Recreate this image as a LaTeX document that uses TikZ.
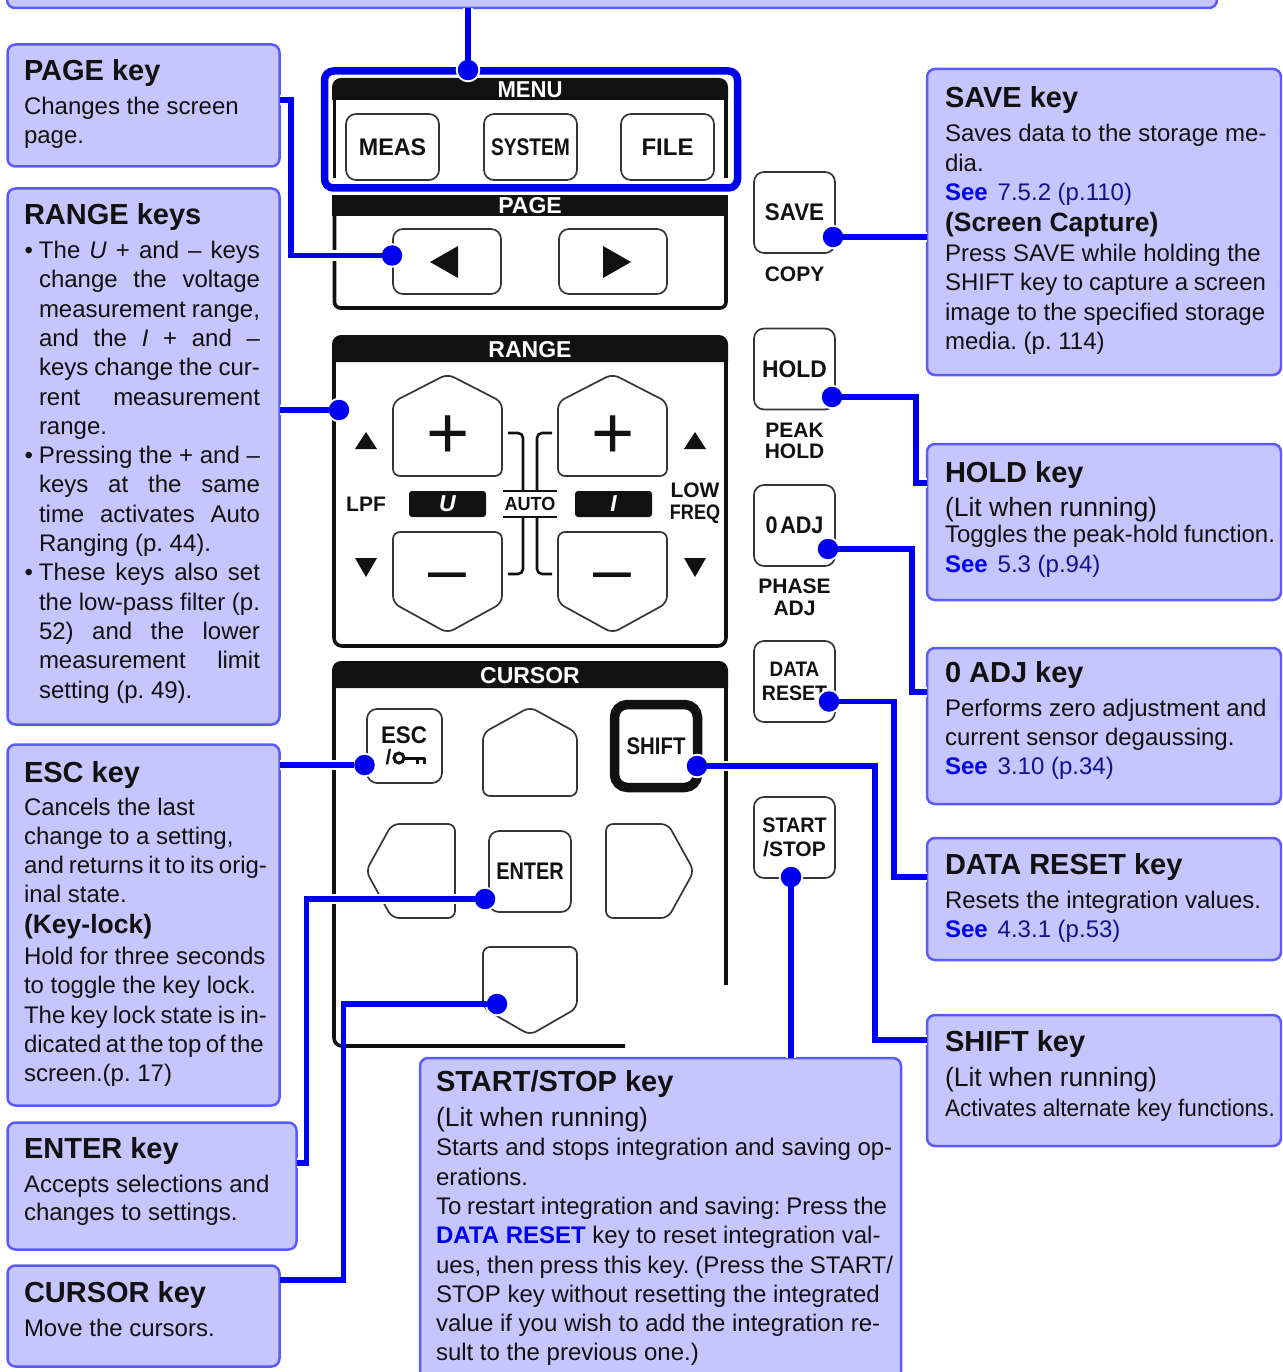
\documentclass[tikz,border=0pt]{standalone}
\usepackage{fontspec}
\usepackage{graphicx}
\usepackage{xcolor}
\setmainfont{Liberation Sans}
\usetikzlibrary{arrows.meta,calc,positioning}
\definecolor{ink}{HTML}{111111}
\definecolor{calloutfill}{HTML}{C6C6FF}
\definecolor{calloutborder}{HTML}{5A5AFF}
\definecolor{lead}{HTML}{0000F0}
\definecolor{seeblue}{HTML}{0000F0}
\definecolor{seenavy}{HTML}{12128C}
\newcommand{\fitline}[2]{\makebox[#1pt][s]{#2}}
\newcommand{\squeeze}[2]{\scalebox{#1}[1]{#2}}
\newcommand{\seeref}[1]{{\color{seeblue}\bfseries See}\hspace{10pt}{\color{seenavy}#1}}
\newcommand{\bigline}[1]{{\fontsize{26.5}{29.3}\selectfont #1}}
\tikzset{
  every node/.style={text=ink, inner sep=0pt, outer sep=0pt},
  callout/.style={rectangle, anchor=north west, draw=calloutborder, fill=calloutfill,
    line width=2.5pt, rounded corners=8pt},
  calltitle/.style={anchor=base west, font=\fontsize{29}{32}\selectfont\bfseries},
  calltext/.style={anchor=base west, align=flush left, text width=#1,
    font=\fontsize{24}{29.3}\selectfont},
  calltext/.default=250pt,
  barelead/.style={draw=lead, line width=5.6pt},
  leadline/.style={barelead, preaction={draw=white, line width=10pt}},
  tapdot/.style={circle, minimum size=20.5pt, fill=lead,
    preaction={draw=white, line width=4pt}},
  keycap/.style={rectangle, draw=ink!85, fill=white, line width=1.7pt,
    rounded corners=10pt, align=center, font=\fontsize{24}{24}\selectfont\bfseries},
  keyedge/.style={draw=ink!85, fill=white, line width=1.7pt, rounded corners=7pt},
  keyword/.style={align=center, font=\fontsize{21}{21}\selectfont\bfseries},
  panelhead/.style={fill=ink},
  panelline/.style={draw=ink, line width=3.6pt},
  panelname/.style={text=white, font=\fontsize{23}{23}\selectfont\bfseries},
  plate/.style={rectangle, fill=ink, text=white, rounded corners=3pt,
    minimum width=77pt, minimum height=26pt,
    font=\fontsize{23}{23}\selectfont\bfseries\itshape},
  autoline/.style={draw=ink, line width=2.6pt, rounded corners=5pt}
}
\begin{document}
\frenchspacing
\begin{tikzpicture}[x=1pt,y=-1pt]
  \useasboundingbox (0,0) rectangle (1282,1372);
  \clip (0,0) rectangle (1282,1372);

  % MENU and PAGE panels.
  \fill[panelhead] (332,100) [rounded corners=9pt] -- (332,78) -- (728,78) [sharp corners] -- (728,100) -- cycle;
  \draw[panelline] (334.5,100) -- (334.5,178);
  \draw[panelline] (726,100) -- (726,178);
  \node[panelname] (menuname) at (530,90) {\squeeze{.96}{MENU}};
  \node[keycap, minimum width=93pt, minimum height=66pt] (measkey) at (392.5,147) {\squeeze{.97}{MEAS}};
  \node[keycap, minimum width=93pt, minimum height=66pt] (systemkey) at (530.5,147) {\squeeze{.8}{SYSTEM}};
  \node[keycap, minimum width=93pt, minimum height=66pt] (filekey) at (667.5,147) {FILE};
  \node[rectangle, draw=lead, line width=7.5pt, rounded corners=9pt,
    preaction={draw=white, line width=12pt},
    minimum width=413pt, minimum height=117pt] (menuring) at (531,129.5) {};

  \fill[panelhead] (332,195) rectangle (728,216);
  \draw[panelline, rounded corners=6pt] (334.5,216) -- (334.5,308) -- (726,308) -- (726,216);
  \node[panelname] (pagename) at (530,206) {PAGE};
  \node[keycap, minimum width=108pt, minimum height=65pt] (prevkey) at (447,261.5) {};
  \node[keycap, minimum width=108pt, minimum height=65pt] (nextkey) at (613,261.5) {};
  \fill[ink] (430,262) -- (458,246) -- (458,278) -- cycle;
  \fill[ink] (631,262) -- (603,246) -- (603,278) -- cycle;

  % RANGE panel.
  \fill[panelhead] (332,362) [rounded corners=9pt] -- (332,335) -- (728,335) [sharp corners] -- (728,362) -- cycle;
  \draw[panelline, rounded corners=8pt] (334,362) -- (334,646) -- (726,646) -- (726,362);
  \node[panelname] (rangename) at (530,350) {RANGE};
  \draw[keyedge] (393,402) -- (447.5,374) -- (502,402) -- (502,476) -- (393,476) -- cycle;
  \draw[keyedge] (558,402) -- (612.5,374) -- (667,402) -- (667,476) -- (558,476) -- cycle;
  \draw[keyedge] (393,603) -- (447.5,633) -- (502,603) -- (502,532) -- (393,532) -- cycle;
  \draw[keyedge] (558,603) -- (612.5,633) -- (667,603) -- (667,532) -- (558,532) -- cycle;
  \node[font=\fontsize{74}{74}\selectfont] (uplus) at (448,437) {+};
  \node[font=\fontsize{74}{74}\selectfont] (iplus) at (613,437) {+};
  \node[font=\fontsize{68}{68}\selectfont] (uminus) at (447.5,583) {–};
  \node[font=\fontsize{68}{68}\selectfont] (iminus) at (612.5,583) {–};
  \fill[ink] (366,432) -- (377,449) -- (355,449) -- cycle;
  \fill[ink] (366,577) -- (377,558) -- (355,558) -- cycle;
  \fill[ink] (695,432) -- (706,449) -- (684,449) -- cycle;
  \fill[ink] (695,577) -- (706,558) -- (684,558) -- cycle;
  \node[keyword] (lpfname) at (366,504) {LPF};
  \node[keyword] (lowfreq) at (695,503) {LOW\\[1pt]\squeeze{.86}{FREQ}};
  \node[plate] (uplate) at (447.5,504) {U};
  \node[plate] (iplate) at (613.5,504) {I};
  \node[keyword, font=\fontsize{19}{19}\selectfont\bfseries] (autoname) at (530,504) {\squeeze{.95}{AUTO}};
  \draw[autoline] (508,433) -- (523,433) -- (523,491);
  \draw[autoline] (552,433) -- (537,433) -- (537,491);
  \draw[autoline] (508,574) -- (523,574) -- (523,517);
  \draw[autoline] (552,574) -- (537,574) -- (537,517);
  \draw[draw=ink, line width=2.6pt] (503,491) -- (557,491);
  \draw[draw=ink, line width=2.6pt] (503,517) -- (557,517);

  % CURSOR panel.
  \fill[panelhead] (332,688) [rounded corners=9pt] -- (332,661) -- (728,661) [sharp corners] -- (728,688) -- cycle;
  \draw[panelline, rounded corners=8pt] (334,688) -- (334,1046) -- (625,1046);
  \draw[panelline] (726,688) -- (726,985);
  \node[panelname] (cursorname) at (530,676) {CURSOR};
  \node[keycap, minimum width=75pt, minimum height=74pt] (esckey) at (404.5,746) {};
  \node[font=\fontsize{24}{24}\selectfont\bfseries] (esclabel) at (404,735) {\squeeze{.93}{ESC}};
  \node[keyword] (escslash) at (388.5,757) {/};
  \draw[draw=ink, line width=3pt] (399,758) circle (5pt);
  \draw[draw=ink, line width=3pt] (404,758) -- (425,758) (417,758) -- (417,764) (424,758) -- (424,764);
  \draw[keyedge] (483,733) -- (530,707) -- (577,733) -- (577,796) -- (483,796) -- cycle;
  \node[keycap, draw=ink, line width=9.5pt, rounded corners=13pt,
    minimum width=83pt, minimum height=83pt] (shiftkey) at (656,746) {\squeeze{.85}{SHIFT}};
  \draw[keyedge] (392,824) -- (366,871) -- (392,918) -- (455,918) -- (455,824) -- cycle;
  \node[keycap, minimum width=82pt, minimum height=81pt] (enterkey) at (530,871.5) {\squeeze{.83}{ENTER}};
  \draw[keyedge] (668,824) -- (694,871) -- (668,918) -- (606,918) -- (606,824) -- cycle;
  \draw[keyedge] (483,1008) -- (530,1035) -- (577,1008) -- (577,947) -- (483,947) -- cycle;

  % Keys to the right of the panels.
  \node[keycap, minimum width=81pt, minimum height=81pt] (savekey) at (794.5,212.5) {\squeeze{.93}{SAVE}};
  \node[keyword] (copyname) at (794.5,274) {COPY};
  \node[keycap, minimum width=81pt, minimum height=81pt] (holdkey) at (794.5,369) {\squeeze{.95}{HOLD}};
  \node[keyword] (peakhold) at (794.5,441) {PEAK\\[-.5pt]HOLD};
  \node[keycap, minimum width=81pt, minimum height=81pt] (zerokey) at (794.5,525.5) {\squeeze{.9}{0\hspace{3pt}ADJ}};
  \node[keyword] (phaseadj) at (794.5,597) {PHASE\\[1pt]ADJ};
  \node[keycap, minimum width=81pt, minimum height=81pt, font=\fontsize{21}{24}\selectfont\bfseries] (resetkey) at (794.5,681.5)
    {\squeeze{.9}{DATA}\\\squeeze{.93}{RESET}};
  \node[keycap, minimum width=81pt, minimum height=81pt, font=\fontsize{21}{24}\selectfont\bfseries] (startkey) at (794.5,837.5)
    {\squeeze{.94}{START}\\/STOP};

  % Callout boxes.
  \node[callout, minimum width=1210pt, minimum height=48pt] (topbox) at (7,-40) {};
  \node[callout, minimum width=272pt, minimum height=122pt] (pagebox) at (7.5,44.5) {};
  \node[callout, minimum width=272pt, minimum height=536pt] (rangebox) at (7.5,188.5) {};
  \node[callout, minimum width=272pt, minimum height=361pt] (escbox) at (7.5,744.5) {};
  \node[callout, minimum width=289pt, minimum height=127pt] (enterbox) at (7.5,1122.5) {};
  \node[callout, minimum width=272pt, minimum height=101pt] (cursorbox) at (7.5,1265.5) {};
  \node[callout, minimum width=481pt, minimum height=360pt] (startbox) at (420,1058) {};
  \node[callout, minimum width=354pt, minimum height=306pt] (savebox) at (927,69) {};
  \node[callout, minimum width=354pt, minimum height=156pt] (holdbox) at (927,444) {};
  \node[callout, minimum width=354pt, minimum height=156pt] (zerobox) at (927,648) {};
  \node[callout, minimum width=354pt, minimum height=122pt] (resetbox) at (927,838) {};
  \node[callout, minimum width=354pt, minimum height=131pt] (shiftbox) at (927,1015) {};

  % Leads, each from its box to a dot on its key.
  \node[tapdot] (menudot) at (468,70) {};
  \node[tapdot] (pagedot) at (392,255.5) {};
  \node[tapdot] (rangedot) at (339,410) {};
  \node[tapdot] (escdot) at (364.5,765) {};
  \node[tapdot] (enterdot) at (485,899) {};
  \node[tapdot] (cursordot) at (497,1004) {};
  \node[tapdot] (shiftdot) at (697,766) {};
  \node[tapdot] (startdot) at (791,877) {};
  \node[tapdot] (resetdot) at (829,701.5) {};
  \node[tapdot] (zerodot) at (828,549) {};
  \node[tapdot] (holddot) at (832,397) {};
  \node[tapdot] (savedot) at (833,237) {};

  \draw[leadline] (topbox.south -| menudot) -- (menudot);
  \draw[leadline] (pagebox.east |- 0,100) -- ++(11.5,0) |- (pagedot);
  \draw[leadline] (rangebox.east |- rangedot) -- (rangedot);
  \draw[leadline] (escbox.east |- escdot) -- (escdot);
  \draw[leadline] (enterbox.east |- 0,1163) -- ++(10,0) |- (enterdot);
  \draw[barelead] (cursorbox.east |- 0,1280) -- ++(64,0) |- (cursordot);
  \draw[leadline] (shiftdot) -- ++(178,0) |- (shiftbox.west |- 0,1040);
  \draw[leadline] (startdot) -- (startbox.north -| startdot);
  \draw[leadline] (resetdot) -- ++(65,0) |- (resetbox.west |- 0,877);
  \draw[leadline] (zerodot) -- ++(84,0) |- (zerobox.west |- 0,692);
  \draw[leadline] (holddot) -- ++(84,0) |- (holdbox.west |- 0,483);
  \draw[leadline] (savedot) -- (savebox.west |- savedot);

  % Left column texts.
  \node[calltitle] (pagetitle) at (24,81) {PAGE key};
  \node[calltext] (pagetext) at (24,114.5) {Changes the screen\\page.};
  \node[calltitle] (rangetitle) at (24,225) {RANGE keys};
  \node[calltext=221pt] (rangetext) at (39,258.5) {%
    \fitline{221}{\llap{•\hspace{6pt}}The \textit{U} + and – keys}\\
    \fitline{221}{change the voltage}\\
    \fitline{221}{measurement range,}\\
    \fitline{221}{and the \textit{I} + and –}\\
    \fitline{221}{keys change the cur-}\\
    \fitline{221}{rent measurement}\\
    range.\\
    \fitline{221}{\llap{•\hspace{6pt}}Pressing the + and –}\\
    \fitline{221}{keys at the same}\\
    \fitline{221}{time activates Auto}\\
    Ranging (p. 44).\\
    \fitline{221}{\llap{•\hspace{6pt}}These keys also set}\\
    \fitline{221}{the low-pass filter (p.}\\
    \fitline{221}{52) and the lower}\\
    \fitline{221}{measurement limit}\\
    setting (p. 49).};
  \node[calltitle] (esctitle) at (24,782) {ESC key};
  \node[calltext] (esctext) at (24,815) {Cancels the last\\
    change to a setting,\\
    \fitline{243}{and returns it to its orig-}\\
    inal state.\\[1.5pt]
    \bigline{\bfseries (Key-lock)}\\[1.5pt]
    Hold for three seconds\\
    to toggle the key lock.\\
    \fitline{243}{The key lock state is in-}\\
    \fitline{239}{dicated at the top of the}\\
    screen.(p. 17)};
  \node[calltitle] (entertitle) at (24,1158) {ENTER key};
  \node[calltext] (entertext) at (24,1192) {Accepts selections and\\[-1pt]changes to settings.};
  \node[calltitle] (cursortitle) at (24,1302) {CURSOR key};
  \node[calltext] (cursortext) at (24,1336) {Move the cursors.};

  % START/STOP text.
  \node[calltitle] (starttitle) at (436,1091) {START/STOP key};
  \node[calltext=480pt] (starttext) at (436,1126.5) {\bigline{(Lit when running)}\\
    Starts and stops integration and saving op-\\
    erations.\\
    \fitline{451}{To restart integration and saving: Press the}\\
    {\color{seeblue}\bfseries DATA RESET} key to reset integration val-\\
    \fitline{457}{ues, then press this key. (Press the START/}\\
    STOP key without resetting the integrated\\
    value if you wish to add the integration re-\\
    sult to the previous one.)};

  % Right column texts.
  \node[calltitle] (savetitle) at (945,108) {SAVE key};
  \node[calltext=330pt] (savetext) at (945,142) {Saves data to the storage me-\\
    dia.\\
    \seeref{7.5.2 (p.110)}\\[1.5pt]
    \bigline{\bfseries (Screen Capture)}\\[1pt]
    Press SAVE while holding the\\
    \fitline{321}{SHIFT key to capture a screen}\\
    image to the specified storage\\
    media. (p. 114)};
  \node[calltitle] (holdtitle) at (945,482) {HOLD key};
  \node[calltext=335pt] (holdtext) at (945,516) {\bigline{(Lit when running)}\\[-2.5pt]
    \fitline{330}{Toggles the peak-hold function.}\\
    \seeref{5.3 (p.94)}};
  \node[calltitle] (zerotitle) at (945,682) {0 ADJ key};
  \node[calltext=330pt] (zerotext) at (945,716) {Performs zero adjustment and\\
    current sensor degaussing.\\
    \seeref{3.10 (p.34)}};
  \node[calltitle] (resettitle) at (945,874) {DATA RESET key};
  \node[calltext=330pt] (resettext) at (945,908) {Resets the integration values.\\
    \seeref{4.3.1 (p.53)}};
  \node[calltitle] (shifttitle) at (945,1051) {SHIFT key};
  \node[calltext=335pt] (shifttext) at (945,1086) {\bigline{(Lit when running)}\\[1.5pt]
    \squeeze{.94}{Activates alternate key functions.}};
\end{tikzpicture}
\end{document}
